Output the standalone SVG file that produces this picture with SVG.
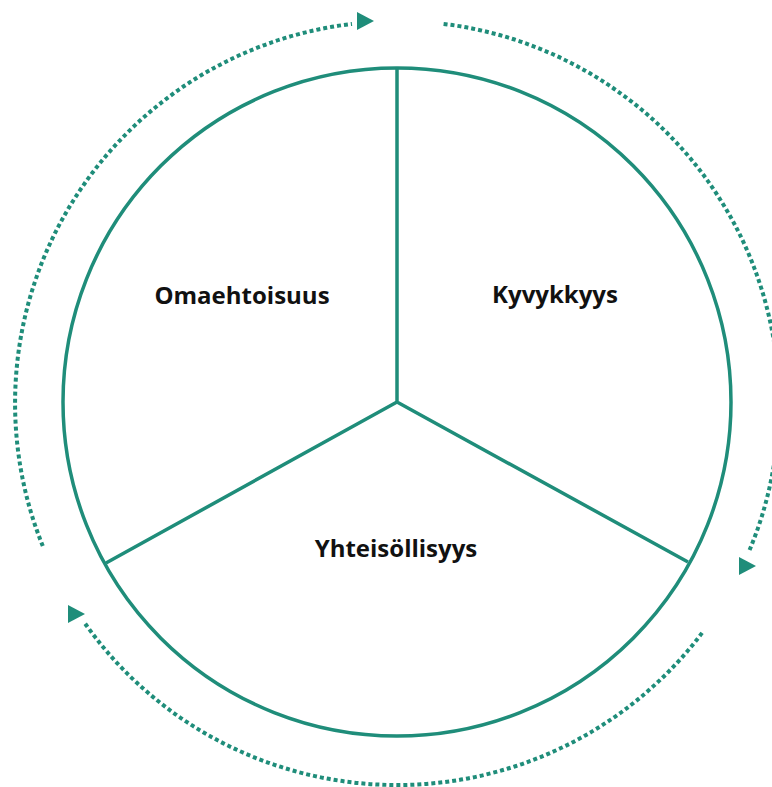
<svg xmlns="http://www.w3.org/2000/svg" width="772" height="787" viewBox="0 0 772 787">
<style>
.ln{fill:none;stroke:#1f8d7a;stroke-width:3.5}
.dot{fill:none;stroke:#1f8d7a;stroke-width:4;stroke-dasharray:4 3}
.ah{fill:#1f8d7a}
.lbl{font-family:"Open Sans","DejaVu Sans",sans-serif;font-weight:700;font-size:24px;fill:#111;text-anchor:middle}
</style>
<rect width="772" height="787" fill="#fff"/>
<g id="wheel">
<circle class="ln" cx="397" cy="402" r="334"/>
<path class="ln" d="M397 68 V402 M397 402 L106 563 M397 402 L688 562"/>
</g>
<g id="omaehtoisuus"><text class="lbl" x="242" y="304">Omaehtoisuus</text></g>
<g id="kyvykkyys"><text class="lbl" x="555" y="303">Kyvykkyys</text></g>
<g id="yhteisollisyys"><text class="lbl" x="396" y="557">Yhteisöllisyys</text></g>
<g id="connectors">
<path class="dot" d="M42.8 546.1 A382 382 0 0 1 352 23.9"/>
<polygon class="ah" points="357,12 374,21 357,30"/>
<path class="dot" d="M443.6 23.9 A382 382 0 0 1 748.6 552.3"/>
<polygon class="ah" points="739,557 756,566 739,575"/>
<path class="dot" d="M702.1 632.9 A382 382 0 0 1 84 622"/>
<polygon class="ah" points="68,605 85,614 68,623"/>
</g>
</svg>
